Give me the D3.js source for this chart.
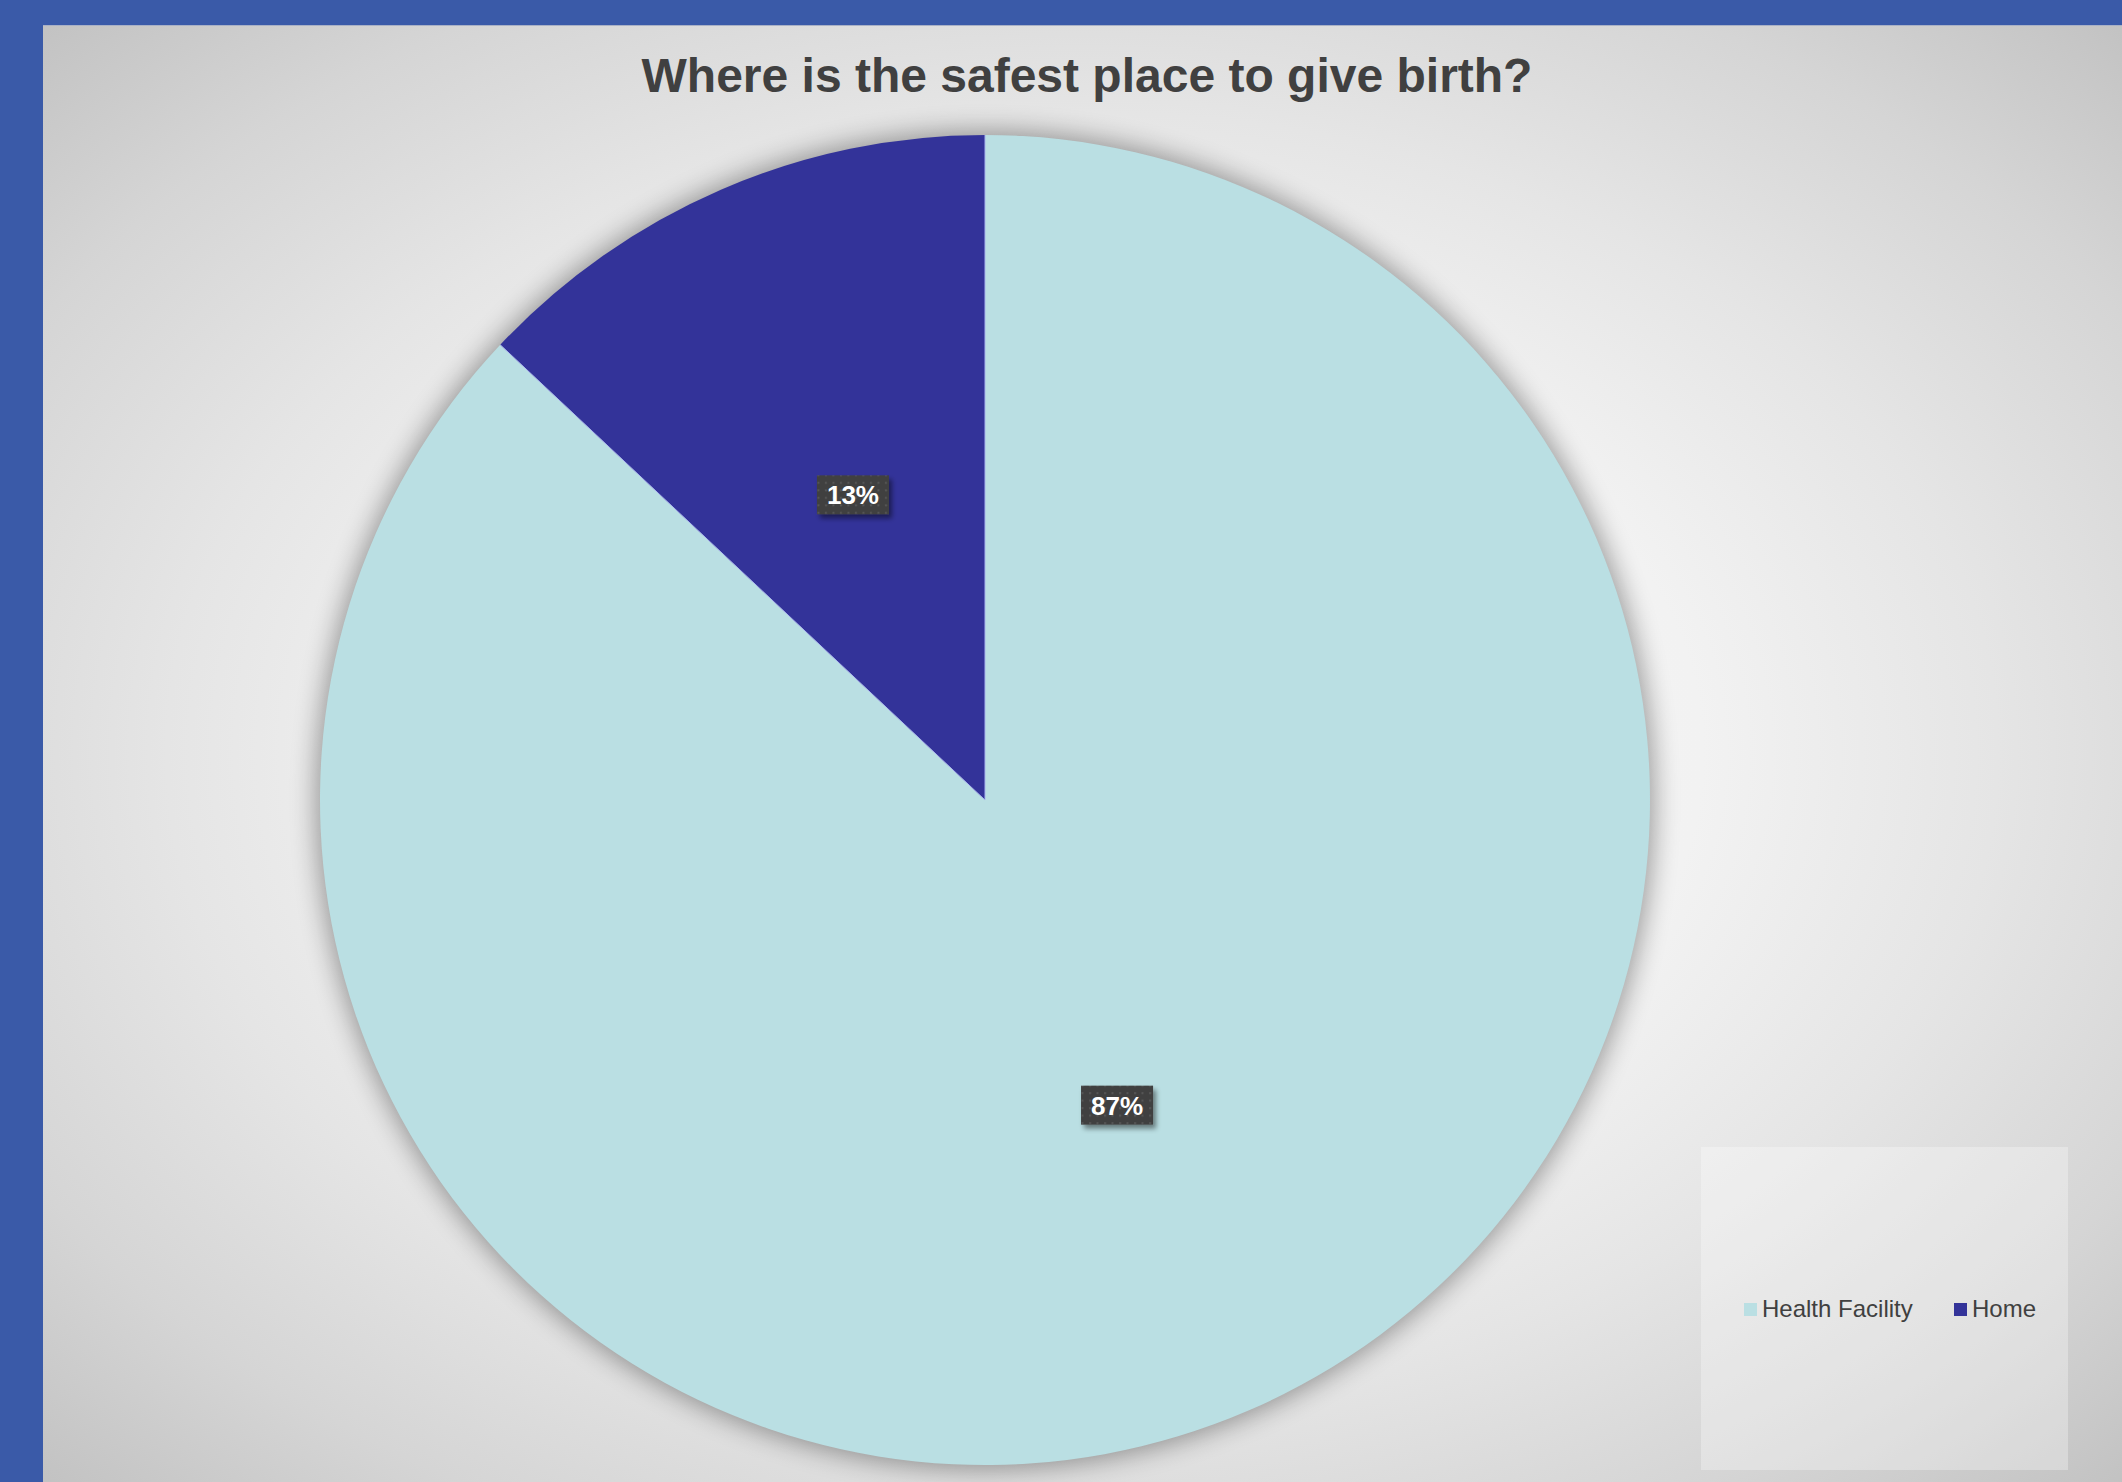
<!DOCTYPE html>
<html>
<head>
<meta charset="utf-8">
<script src="https://cdn.jsdelivr.net/npm/d3@7"></script>
<style>
  html, body { margin: 0; padding: 0; background: #3a5aa8; }
  svg { display: block; }
</style>
</head>
<body>
<svg id="chart" width="2122" height="1482"></svg>
<script>
// Survey answers: where respondents think giving birth is safest (percent)
const categories = ["Health Facility", "Home"];
const values = [87, 13];
const sliceColors = ["#badfe3", "#333399"];
const chartTitle = "Where is the safest place to give birth?";

const W = 2122, H = 1482;
const frame = { left: 43, top: 25 };
const center = { x: 985, y: 800 };
const radius = 665;
const FONT = "'Liberation Sans', Arial, Helvetica, sans-serif";

const svg = d3.select("#chart");
const defs = svg.append("defs");

// Soft grey radial background of the chart area
const bg = defs.append("radialGradient")
  .attr("id", "bgGrad")
  .attr("cx", 0.5).attr("cy", 0.5).attr("r", 0.71);
[[0, "#f8f8f8"], [0.42, "#f2f2f2"], [0.62, "#e5e5e5"], [0.82, "#d5d5d5"], [1, "#c2c2c2"]]
  .forEach(([o, c]) => bg.append("stop").attr("offset", o).attr("stop-color", c));

// Halo shadow behind the pie
const halo = defs.append("filter").attr("id", "halo")
  .attr("x", -0.2).attr("y", -0.2).attr("width", 1.4).attr("height", 1.4);
halo.append("feGaussianBlur").attr("stdDeviation", 13);

// Drop shadow for the data label boxes
const lblShadow = defs.append("filter").attr("id", "lblShadow")
  .attr("x", -0.3).attr("y", -0.3).attr("width", 1.6).attr("height", 1.8);
lblShadow.append("feDropShadow")
  .attr("dx", 3).attr("dy", 4).attr("stdDeviation", 2.5)
  .attr("flood-color", "#000").attr("flood-opacity", 0.45);

// Dotted texture for the label boxes
const dots = defs.append("pattern").attr("id", "dots")
  .attr("patternUnits", "userSpaceOnUse").attr("width", 7.5).attr("height", 7.5);
dots.append("rect").attr("width", 7.5).attr("height", 7.5).attr("fill", "#404040");
dots.append("rect").attr("x", 2).attr("y", 2).attr("width", 2).attr("height", 2).attr("fill", "#575757");

// Blue frame and chart area
svg.append("rect").attr("width", W).attr("height", H).attr("fill", "#3a5aa8");
svg.append("rect")
  .attr("x", frame.left).attr("y", frame.top)
  .attr("width", W - frame.left).attr("height", H - frame.top)
  .attr("fill", "url(#bgGrad)");
svg.append("line")
  .attr("x1", frame.left).attr("x2", W)
  .attr("y1", frame.top + 0.5).attr("y2", frame.top + 0.5)
  .attr("stroke", "#a9b1c6").attr("stroke-width", 1);

// Title
svg.append("text")
  .attr("x", 1087).attr("y", 92)
  .attr("text-anchor", "middle")
  .attr("font-family", FONT).attr("font-weight", "bold").attr("font-size", 48)
  .attr("fill", "#404040")
  .text(chartTitle);

// Pie layout: first slice starts at 12 o'clock and runs clockwise
const pie = d3.pie().sort(null).value(d => d.value);
const data = categories.map((c, i) => ({ name: c, value: values[i], color: sliceColors[i] }));
const arcs = pie(data);
const arc = d3.arc().innerRadius(0).outerRadius(radius);

const g = svg.append("g").attr("transform", `translate(${center.x},${center.y})`);

g.append("circle")
  .attr("r", radius + 4)
  .attr("fill", "#000").attr("opacity", 0.36)
  .attr("filter", "url(#halo)");

g.selectAll("path.slice")
  .data(arcs)
  .join("path")
  .attr("class", "slice")
  .attr("d", arc)
  .attr("fill", d => d.data.color);

// Thin light seams between slices
g.selectAll("line.seam")
  .data(arcs)
  .join("line")
  .attr("class", "seam")
  .attr("x1", 0).attr("y1", 0)
  .attr("x2", d => radius * Math.sin(d.startAngle))
  .attr("y2", d => -radius * Math.cos(d.startAngle))
  .attr("stroke", "#a9b4ee").attr("stroke-width", 1);

// Data labels at the slice centroids
const total = d3.sum(values);
const fmt = v => Math.round(v / total * 100) + "%";
const labels = g.selectAll("g.lbl")
  .data(arcs)
  .join("g")
  .attr("class", "lbl")
  .attr("transform", d => { const [x, y] = arc.centroid(d); return `translate(${x},${y})`; });

labels.each(function(d) {
  const sel = d3.select(this);
  const rect = sel.append("rect").attr("fill", "url(#dots)").attr("filter", "url(#lblShadow)");
  const t = sel.append("text")
    .attr("text-anchor", "middle")
    .attr("y", 9.5)
    .attr("font-family", FONT).attr("font-weight", "bold").attr("font-size", 26)
    .attr("fill", "#ffffff")
    .text(fmt(d.data.value));
  const w = t.node().getComputedTextLength() + 20;
  rect.attr("x", -w / 2).attr("y", -19.5).attr("width", w).attr("height", 39);
});

// Legend
const legend = svg.append("g");
legend.append("rect")
  .attr("x", 1701).attr("y", 1147).attr("width", 367).attr("height", 323)
  .attr("fill", "#ffffff").attr("opacity", 0.3);

const legendX = [1744, 1954];
const items = legend.selectAll("g.item")
  .data(data)
  .join("g")
  .attr("class", "item")
  .attr("transform", (d, i) => `translate(${legendX[i]},1303)`);
items.append("rect")
  .attr("width", 13).attr("height", 13)
  .attr("fill", d => d.color);
items.append("text")
  .attr("x", 18).attr("y", 13.5)
  .attr("font-family", FONT).attr("font-size", 24)
  .attr("fill", "#404040")
  .text(d => d.name);
</script>
</body>
</html>
